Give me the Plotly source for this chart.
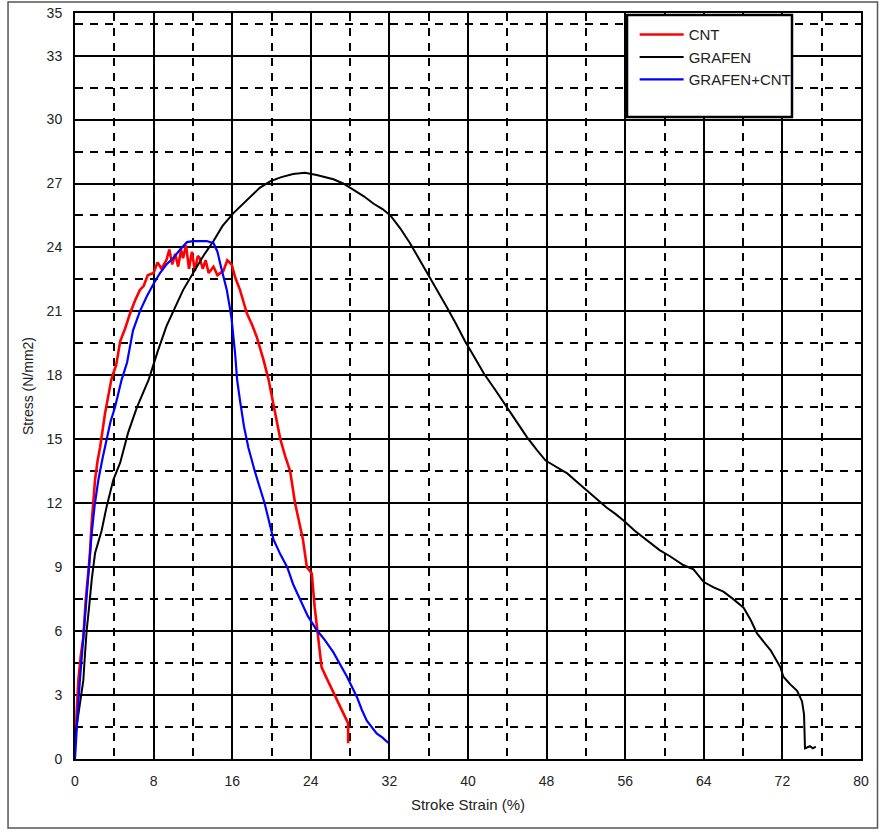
import plotly.graph_objects as go

# ---------------- data ----------------
cnt_x = [0.0, 0.1, 0.2, 0.34, 0.6, 0.85, 1.1, 1.36, 1.5, 1.7, 2.04, 2.3, 2.55, 3.05, 3.4, 3.7,
         3.9, 4.2, 4.6, 5.1, 5.6, 6.1, 6.6, 7.0, 7.4, 8.0, 8.4, 8.8, 9.3, 9.6, 9.9, 10.2, 10.5,
         10.8, 11.0, 11.3, 11.6, 11.9, 12.2, 12.5, 12.7, 13.0, 13.3, 13.6, 14.1, 14.5, 15.1,
         15.5, 15.95, 16.3, 16.8, 17.2, 17.5, 18.0, 18.5, 19.2, 19.7, 20.3, 20.9, 21.4, 21.9,
         22.4, 22.8, 23.2, 23.6, 24.1, 24.4, 24.8, 25.1, 25.5, 26.0, 26.6, 27.3, 27.8, 27.8]
cnt_y = [1.0, 1.4, 2.5, 3.7, 4.9, 5.7, 7.5, 8.9, 9.5, 11.1, 13.1, 14.0, 14.6, 16.2, 17.1, 17.8,
         18.1, 18.5, 19.6, 20.2, 20.9, 21.5, 22.0, 22.2, 22.7, 22.8, 23.3, 23.0, 23.4, 23.9, 23.2,
         23.7, 23.1, 23.9, 23.5, 24.1, 23.0, 23.8, 22.9, 23.6, 23.5, 23.0, 23.4, 22.8, 23.1, 22.7,
         22.9, 23.4, 23.2, 22.6, 22.0, 21.3, 20.9, 20.4, 19.8, 18.7, 17.8, 16.4, 15.0, 14.2, 13.5,
         12.0, 11.2, 10.3, 9.0, 8.7, 7.1, 5.6, 4.3, 3.9, 3.4, 2.8, 2.1, 1.67, 0.74]

grafen_x = [0.0, 0.17, 0.5, 0.85, 1.0, 1.19, 1.45, 1.7, 2.04, 2.7, 3.2, 3.9, 4.6, 5.4, 6.3, 7.5,
            8.4, 9.3, 10.2, 11.0, 12.4, 13.2, 14.1, 15.0, 16.1, 17.0, 17.8, 18.8, 19.85, 21.0,
            22.2, 23.4, 24.6, 25.5, 26.3, 27.3, 28.3, 29.4, 30.4, 31.3, 32.1, 33.1, 34.1, 35.1,
            36.15, 37.0, 37.85, 38.8, 39.7, 40.6, 41.6, 42.8, 43.95, 45.0, 46.0, 47.0, 47.9, 49.0,
            50.1, 51.1, 52.1, 53.1, 54.1, 55.0, 55.8, 57.0, 58.4, 59.5, 60.6, 61.9, 62.95, 64.0,
            65.0, 66.0, 67.0, 68.05, 68.8, 69.4, 70.1, 70.8, 71.3, 71.8, 72.1, 72.8, 73.5, 74.0,
            74.2, 74.3, 74.8, 75.1, 75.4]
grafen_y = [1.0, 1.5, 2.6, 3.7, 4.8, 6.05, 7.2, 8.4, 9.65, 10.7, 11.8, 13.1, 13.9, 15.3, 16.5, 17.8,
            19.1, 20.3, 21.2, 22.0, 23.1, 23.7, 24.3, 25.0, 25.6, 26.0, 26.4, 26.8, 27.1, 27.3,
            27.45, 27.5, 27.4, 27.3, 27.2, 27.0, 26.7, 26.4, 26.05, 25.8, 25.5, 24.9, 24.2, 23.4,
            22.6, 21.9, 21.2, 20.4, 19.6, 18.9, 18.1, 17.3, 16.5, 15.8, 15.1, 14.5, 14.0, 13.7,
            13.4, 13.0, 12.6, 12.2, 11.8, 11.5, 11.2, 10.7, 10.2, 9.8, 9.5, 9.1, 8.9, 8.3,
            8.05, 7.85, 7.5, 7.1, 6.5, 5.9, 5.5, 5.1, 4.7, 4.3, 3.86, 3.5, 3.2, 2.7,
            2.1, 0.5, 0.6, 0.5, 0.58]

gcnt_x = [0.0, 0.1, 0.3, 0.5, 0.68, 0.9, 1.19, 1.45, 1.7, 2.0, 2.38, 2.8, 3.2, 3.6, 4.07, 4.75,
          5.3, 5.9, 6.6, 7.3, 8.0, 8.65, 9.3, 10.0, 10.7, 11.4, 12.0, 12.7, 13.4, 14.1, 14.5,
          14.8, 15.15, 15.45, 15.75, 15.95, 16.3, 16.5, 16.8, 17.2, 17.65, 18.3, 19.3, 19.8,
          20.2, 20.9, 21.6, 22.2, 22.9, 23.7, 24.6, 25.4, 26.3, 27.0, 27.7, 28.7, 29.2, 29.7,
          30.2, 30.7, 31.3, 31.9]
gcnt_y = [0.0, 1.05, 2.4, 3.7, 4.8, 6.1, 7.6, 9.1, 10.6, 11.9, 13.1, 14.1, 15.0, 15.8, 16.5, 17.8,
          18.6, 20.1, 21.0, 21.7, 22.3, 22.8, 23.2, 23.5, 23.9, 24.25, 24.3, 24.3, 24.3, 24.2, 23.8,
          23.2, 22.6, 22.0, 21.2, 20.6, 19.0, 17.8, 16.8, 15.6, 14.6, 13.5, 12.0, 11.0,
          10.3, 9.6, 9.0, 8.2, 7.5, 6.7, 6.05, 5.6, 5.0, 4.4, 3.85, 2.9, 2.3, 1.8,
          1.5, 1.2, 1.0, 0.75]

series_names = ["CNT", "GRAFEN", "GRAFEN+CNT"]
x_ticks = [0, 8, 16, 24, 32, 40, 48, 56, 64, 72, 80]
y_ticks = [0, 3, 6, 9, 12, 15, 18, 21, 24, 27, 30, 33, 35]

# ---------------- figure ----------------
fig = go.Figure()
fig.add_trace(go.Scatter(x=cnt_x, y=cnt_y, mode="lines", name=series_names[0],
                         line=dict(color="#ff0000", width=2.6)))
fig.add_trace(go.Scatter(x=grafen_x, y=grafen_y, mode="lines", name=series_names[1],
                         line=dict(color="#000000", width=2)))
fig.add_trace(go.Scatter(x=gcnt_x, y=gcnt_y, mode="lines", name=series_names[2],
                         line=dict(color="#0000ff", width=2.2)))

FONT = "Liberation Sans, Arial, sans-serif"
tickfont = dict(family=FONT, size=14, color="#222222")

fig.update_layout(
    width=881, height=832,
    margin=dict(l=75, r=20, t=13, b=73),
    paper_bgcolor="white", plot_bgcolor="white",
    showlegend=True,
    legend=dict(x=0.712, y=0.993, xanchor="left", yanchor="top",
                bgcolor="rgba(0,0,0,0)", borderwidth=0, itemwidth=44,
                font=dict(family=FONT, size=15, color="#222222"),
                tracegroupgap=0),
    xaxis=dict(range=[0, 80], tickmode="array", tickvals=x_ticks, automargin=False,
               showgrid=True, gridcolor="black", gridwidth=1.6,
               showline=True, linecolor="black", linewidth=2, mirror=True,
               ticks="outside", ticklen=8, tickcolor="rgba(0,0,0,0)",
               zeroline=False, tickfont=tickfont,
               minor=dict(tick0=0, dtick=4, showgrid=True, gridcolor="black",
                          gridwidth=1.5, griddash="8px,7px", ticks=""),
               title=dict(text="Stroke Strain (%)", standoff=12,
                          font=dict(family=FONT, size=15, color="#222222"))),
    yaxis=dict(range=[0, 35], tickmode="array", tickvals=y_ticks, automargin=False,
               showgrid=True, gridcolor="black", gridwidth=1.6,
               showline=True, linecolor="black", linewidth=2, mirror=True,
               ticks="outside", ticklen=8, tickcolor="rgba(0,0,0,0)",
               zeroline=False, tickfont=tickfont,
               minor=dict(tick0=0, dtick=1.5, showgrid=True, gridcolor="black",
                          gridwidth=1.5, griddash="8px,7px", ticks=""),
               title=dict(text="Stress (N/mm2)", standoff=10,
                          font=dict(family=FONT, size=14, color="#222222"))),
    shapes=[
        # legend box
        dict(type="rect", xref="paper", yref="paper",
             x0=0.7023, x1=0.9122, y0=0.8606, y1=0.9973,
             fillcolor="white", line=dict(color="black", width=2.5), layer="above"),
        # outer frame of the figure
        dict(type="rect", xref="paper", yref="paper",
             x0=-0.0852, x1=1.021, y0=-0.0925, y1=1.0147,
             fillcolor="rgba(0,0,0,0)", line=dict(color="#555555", width=1.5), layer="below"),
    ],
)

fig.write_html("out.html",
               config={"displayModeBar": False},
               post_script="document.body.style.margin='0px';document.body.style.padding='0px';")
